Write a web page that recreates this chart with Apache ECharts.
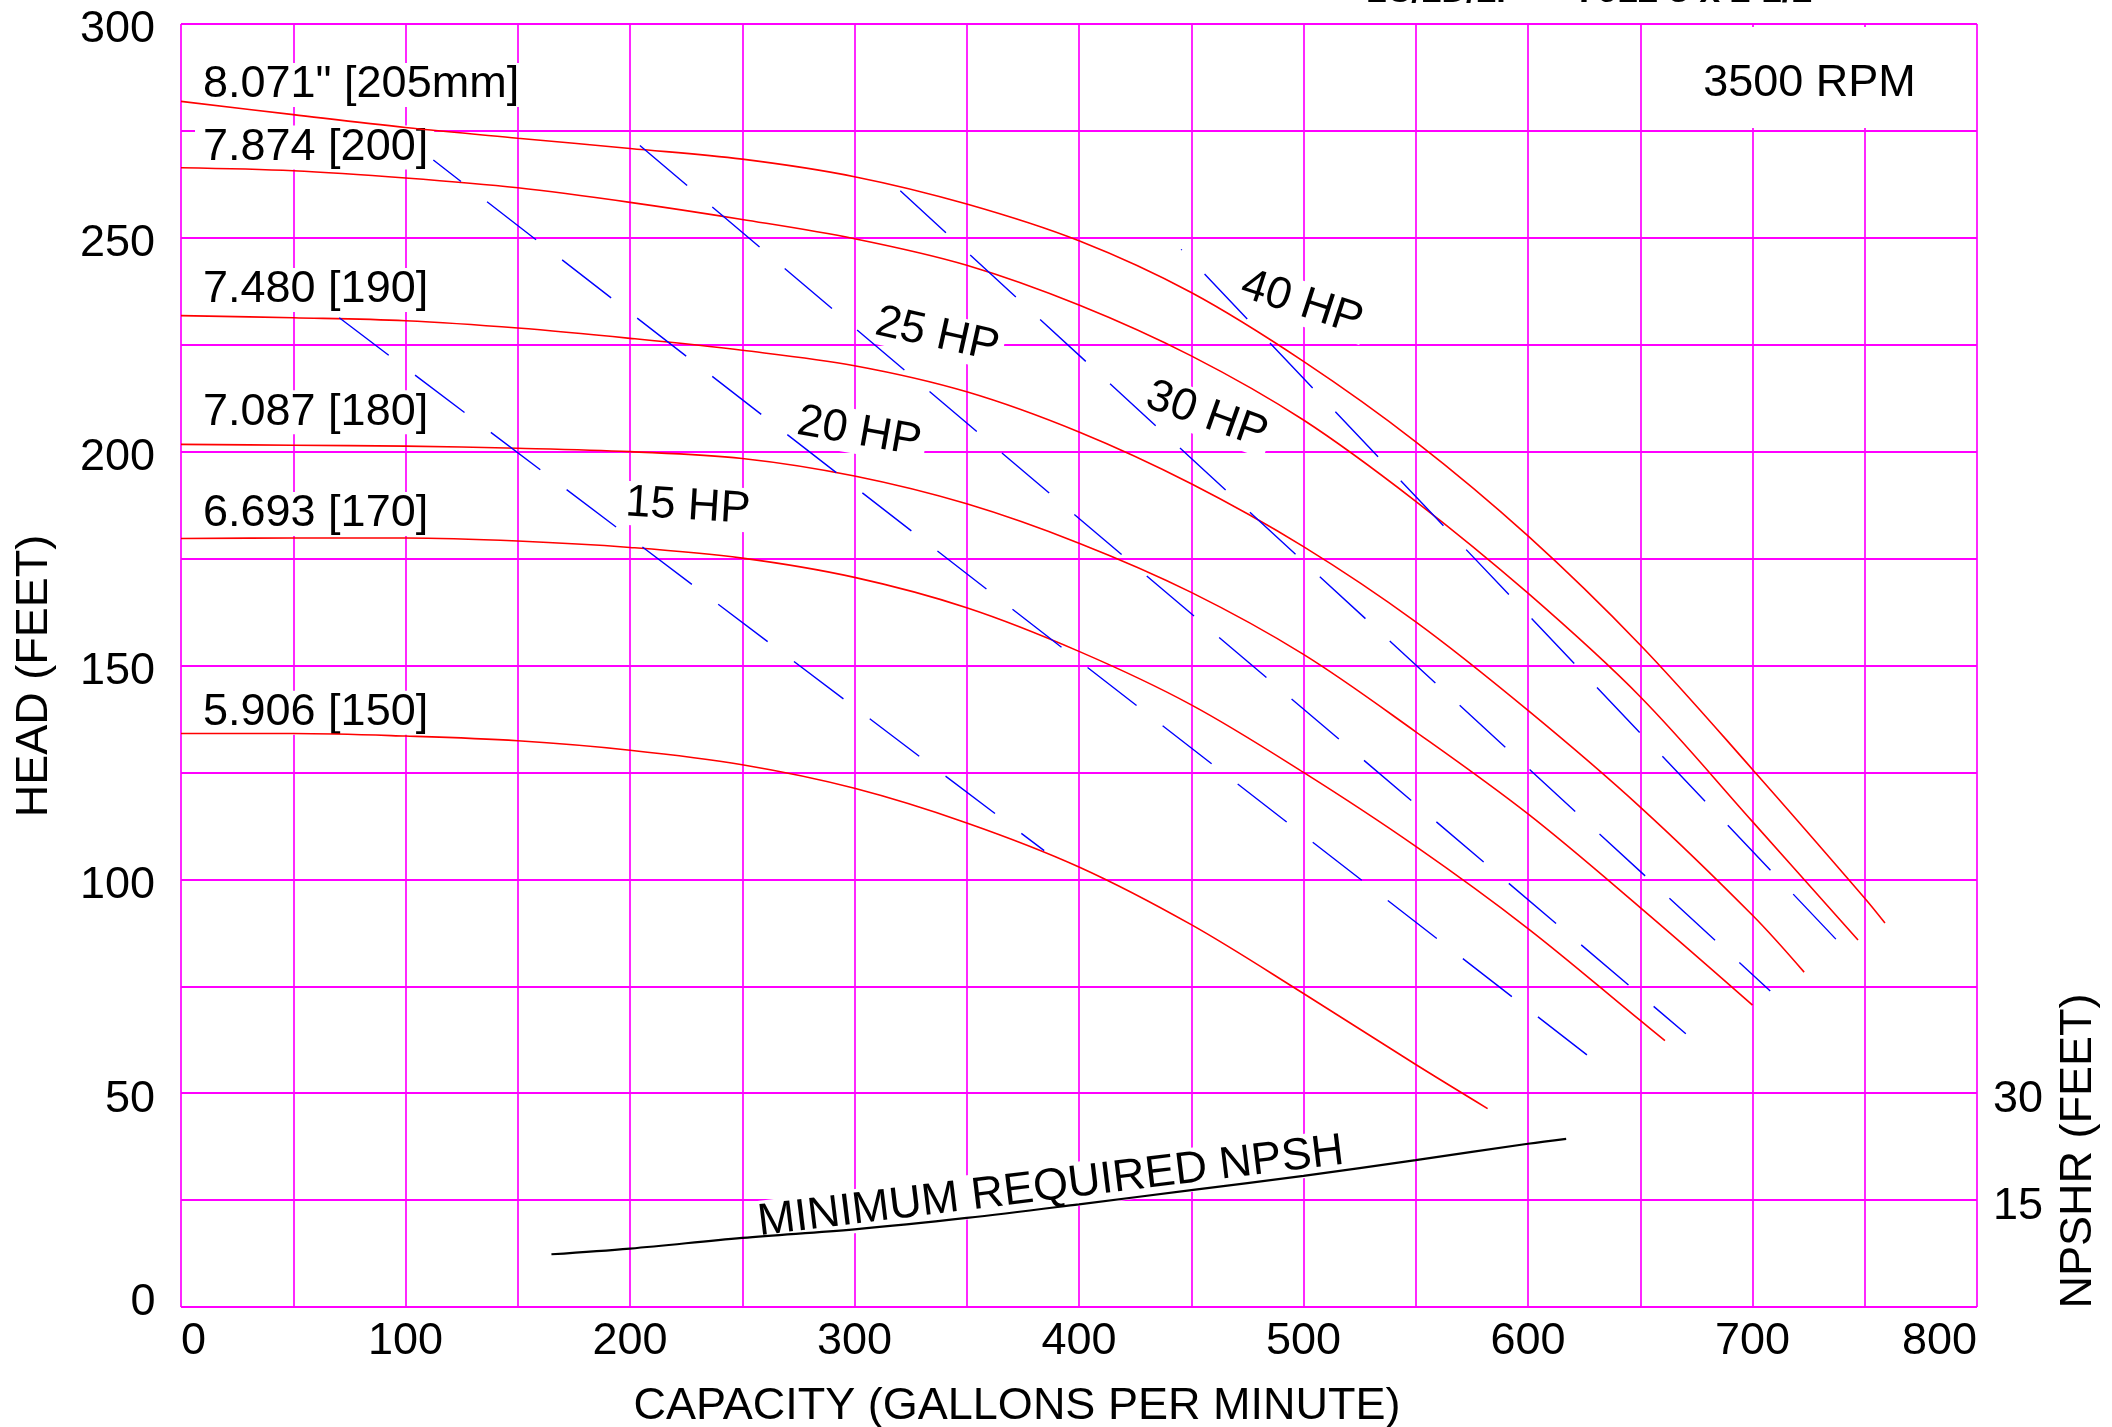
<!DOCTYPE html>
<html>
<head>
<meta charset="utf-8">
<script src="https://cdn.jsdelivr.net/npm/echarts@6/dist/echarts.min.js"></script>
<style>
html,body{margin:0;padding:0;background:#fff;}
#chart{width:2112px;height:1427px;}
</style>
</head>
<body>
<div id="chart"></div>
<script>
// ---------------- DATA ----------------
// Impeller head-capacity curves (capacity gpm, head ft)
const flow205 = [0,50,100,150,200,250,300,350,400,450,500,550,600,650,700,750,759];
const head205 = [281.9,278.8,275.8,273.3,270.9,268.4,264.3,257.9,249.3,237.2,221.1,202.3,180.3,154.8,125.7,95.6,89.8];

const flow200 = [0,50,100,150,200,250,300,350,400,450,500,550,600,650,700,747];
const head200 = [266.4,265.7,264.0,261.7,258.3,254.3,249.8,243.6,234.3,222.4,207.4,188.4,166.9,142.7,113.5,85.8];

const flow190 = [0,50,100,150,200,250,300,350,400,450,500,550,600,650,700,723];
const head190 = [231.8,231.3,230.6,228.9,226.5,223.7,220.1,214.0,204.6,192.5,177.8,160.2,139.5,116.9,91.6,78.3];

const flow180 = [0,50,100,150,200,250,300,350,400,450,500,550,600,650,700];
const head180 = [201.7,201.5,201.3,200.8,200.0,198.4,194.3,187.8,178.6,167.1,152.6,134.5,115.3,93.4,70.6];

const flow170 = [0,50,100,150,200,250,300,350,400,450,500,550,600,650,661];
const head170 = [179.7,179.8,179.8,179.1,177.6,175.1,170.6,163.5,153.3,140.8,125.0,107.7,88.5,67.0,62.3];

const flow150 = [0,50,100,150,200,250,300,350,400,450,500,550,582];
const head150 = [134.1,134.1,133.5,132.4,130.2,126.8,121.3,113.2,102.9,89.4,73.3,56.7,46.4];

const curveNames = ['8.071" [205mm]','7.874 [200]','7.480 [190]','7.087 [180]','6.693 [170]','5.906 [150]'];

// Constant horsepower lines (straight, start/end)
const hpNames     = ['15 HP','20 HP','25 HP','30 HP','40 HP'];
const hpStartFlow = [70.5, 112.4, 204.4, 320.4, 445.5];
const hpStartHead = [231.3, 268.2, 271.6, 261.0, 247.3];
const hpEndFlow   = [384.5, 632.5, 670.3, 707.9, 740.8];
const hpEndHead   = [106.7, 56.4, 63.9, 73.9, 84.0];

// Minimum required NPSH (right axis, feet)
const npshFlow = [165,200,250,300,350,400,450,500,550,600,617];
const npshr    = [7.4,8.2,9.7,10.9,12.5,14.4,16.4,18.4,20.6,22.9,23.6];

// Tick labels
const flowTicks = [0,100,200,300,400,500,600,700,800];
const headTicks = [0,50,100,150,200,250,300];
const npshTicks = [15,30];

// ---------------- LAYOUT / STYLE ----------------
const FONT = '"Liberation Sans", Arial, sans-serif';
const FS = 45;
const MID = 5;            // canvas "middle" sits this far below cap-centre
const MAGENTA = '#ff00ff';

const curveFlows = [flow205, flow200, flow190, flow180, flow170, flow150];
const curveHeads = [head205, head200, head190, head180, head170, head150];
// annotation anchors (data coords)
const curveLabelAt = [[9.8,286.9],[9.8,272.3],[9.8,239.0],[9.8,210.4],[9.8,186.6],[9.8,140.1]];
const hpLabelAt = [[225.9,188.3],[302.5,205.7],[337.3,228.4],[457.6,209.6],[499.9,235.8]];
const hpLabelRot = [-3.5,-10,-12.5,-19.5,-18];
const hpDashOffset = [0,27,0,0,61];

const chart = echarts.init(document.getElementById('chart'), null, {renderer:'canvas', width:2112, height:1427});

function pairs(xs, ys){ return xs.map((x,i)=>[x, ys[i]]); }

const series = [];
curveFlows.forEach((fl, i) => {
  series.push({
    name: curveNames[i], type:'line', data: pairs(fl, curveHeads[i]),
    smooth: 0.35, symbol:'none', silent:true, z: 3,
    lineStyle:{color:'#ff0000', width:1.6}
  });
});
hpNames.forEach((n, i) => {
  series.push({
    name: n, type:'line',
    data: [[hpStartFlow[i], hpStartHead[i]], [hpEndFlow[i], hpEndHead[i]]],
    symbol:'none', silent:true, z: 3,
    lineStyle:{color:'#0000ff', width:1.4, type:[62,33], dashOffset: hpDashOffset[i]}
  });
});
series.push({
  name:'NPSHR', type:'line', yAxisIndex:1, data: pairs(npshFlow, npshr),
  smooth:0.35, symbol:'none', silent:true, z:3,
  lineStyle:{color:'#000000', width:2.2}
});

const labelStyle = {color:'#000', fontSize:FS, fontFamily:FONT};

chart.setOption({
  animation:false,
  backgroundColor:'#ffffff',
  grid:{left:181, top:24, right:135, bottom:120, containLabel:false, outerBoundsMode:'none'},
  xAxis:{
    type:'value', min:0, max:800, interval:50,
    axisLine:{show:false}, axisTick:{show:false},
    splitLine:{show:true, lineStyle:{color:MAGENTA, width:1.7}},
    axisLabel:Object.assign({}, labelStyle, {
      margin:13, lineHeight:44,
      alignMinLabel:'left', alignMaxLabel:'right',
      formatter:v => flowTicks.includes(v) ? String(v) : ''
    })
  },
  yAxis:[{
    type:'value', min:0, max:300, interval:25,
    axisLine:{show:false}, axisTick:{show:false},
    splitLine:{show:true, lineStyle:{color:MAGENTA, width:2.2}},
    axisLabel:Object.assign({}, labelStyle, {
      margin:26, verticalAlign:'top', lineHeight:12,
      formatter:v => (headTicks.includes(v) && v !== 0) ? String(v) : ''
    })
  },{
    type:'value', position:'right', min:0, max:180, interval:15,
    axisLine:{show:false}, axisTick:{show:false}, splitLine:{show:false},
    axisLabel:Object.assign({}, labelStyle, {
      margin:16, verticalAlign:'top', lineHeight:13,
      formatter:v => npshTicks.includes(v) ? String(v) : ''
    })
  }],
  series: series
});

function px(x, y){ return chart.convertToPixel({xAxisIndex:0, yAxisIndex:0}, [x, y]); }
function shift(rotDeg){ const r = rotDeg*Math.PI/180; return [MID*Math.sin(r), MID*Math.cos(r)]; }

const g = [];
// blank box behind speed label
const b0 = px(652, 299.3), b1 = px(798.5, 275.7);
g.push({type:'rect', z:1, silent:true, shape:{x:b0[0], y:b0[1], width:b1[0]-b0[0], height:b1[1]-b0[1]}, style:{fill:'#fff'}});
// speed label
const rp = px(725.4, 287.3);
g.push({type:'text', z:5, x:rp[0], y:rp[1]+MID, style:{text:'3500 RPM', fontSize:FS, fontFamily:FONT, fill:'#000', align:'center', verticalAlign:'middle'}});

// zero label of head axis (sits a little above the baseline in the original)
const z0 = px(0, 0);
g.push({type:'text', z:5, x:z0[0]-25.5, y:z0[1]-9.5+MID, style:{text:String(headTicks[0]), fontSize:FS, fontFamily:FONT, fill:'#000', align:'right', verticalAlign:'middle'}});

// impeller diameter labels
curveNames.forEach((t, i) => {
  const p = px(curveLabelAt[i][0], curveLabelAt[i][1]);
  g.push({type:'text', z:1, x:p[0]-8, y:p[1]+MID, style:{text:t, fontSize:FS, fontFamily:FONT, fill:'#000',
    align:'left', verticalAlign:'middle', lineHeight:44, backgroundColor:'#fff', padding:[0,6,0,8]}});
});
// HP labels
hpNames.forEach((t, i) => {
  const p = px(hpLabelAt[i][0], hpLabelAt[i][1]);
  const s = shift(hpLabelRot[i]);
  g.push({type:'text', z:1, x:p[0]+s[0], y:p[1]+s[1], rotation:hpLabelRot[i]*Math.PI/180,
    style:{text:t, fontSize:FS, fontFamily:FONT, fill:'#000', align:'center', verticalAlign:'middle',
      lineHeight:44, backgroundColor:'#fff', padding:[0,5,0,5]}});
});
// NPSH label
const np = px(387.2, 29.2);
const ns = shift(7);
g.push({type:'text', z:1, x:np[0]+ns[0], y:np[1]+ns[1], rotation:7*Math.PI/180,
  style:{text:'MINIMUM REQUIRED NPSH', fontSize:FS, fontFamily:FONT, fill:'#000', align:'center', verticalAlign:'middle',
    lineHeight:44, backgroundColor:'#fff', padding:[0,6,0,6]}});

// axis titles
g.push({type:'text', z:5, x:1017, y:1402+MID, style:{text:'CAPACITY (GALLONS PER MINUTE)', fontSize:FS, fontFamily:FONT, fill:'#000', align:'center', verticalAlign:'middle'}});
g.push({type:'text', z:5, x:29.6+MID, y:676, rotation:Math.PI/2, style:{text:'HEAD (FEET)', fontSize:FS, fontFamily:FONT, fill:'#000', align:'center', verticalAlign:'middle'}});
g.push({type:'text', z:5, x:2074+MID, y:1151, rotation:Math.PI/2, style:{text:'NPSHR (FEET)', fontSize:FS, fontFamily:FONT, fill:'#000', align:'center', verticalAlign:'middle'}});
// cropped model title at the very top
g.push({type:'text', z:5, x:1366, y:-7, style:{text:'LC/LD/LF', fontSize:34, fontWeight:'bold', fontFamily:FONT, fill:'#000', align:'left', verticalAlign:'middle'}});
g.push({type:'text', z:5, x:1576, y:-8, style:{text:'7612 3 x 2 1/2', fontSize:37, fontWeight:'bold', fontFamily:FONT, fill:'#000', align:'left', verticalAlign:'middle'}});

chart.setOption({graphic:{elements:g}});
</script>
</body>
</html>
